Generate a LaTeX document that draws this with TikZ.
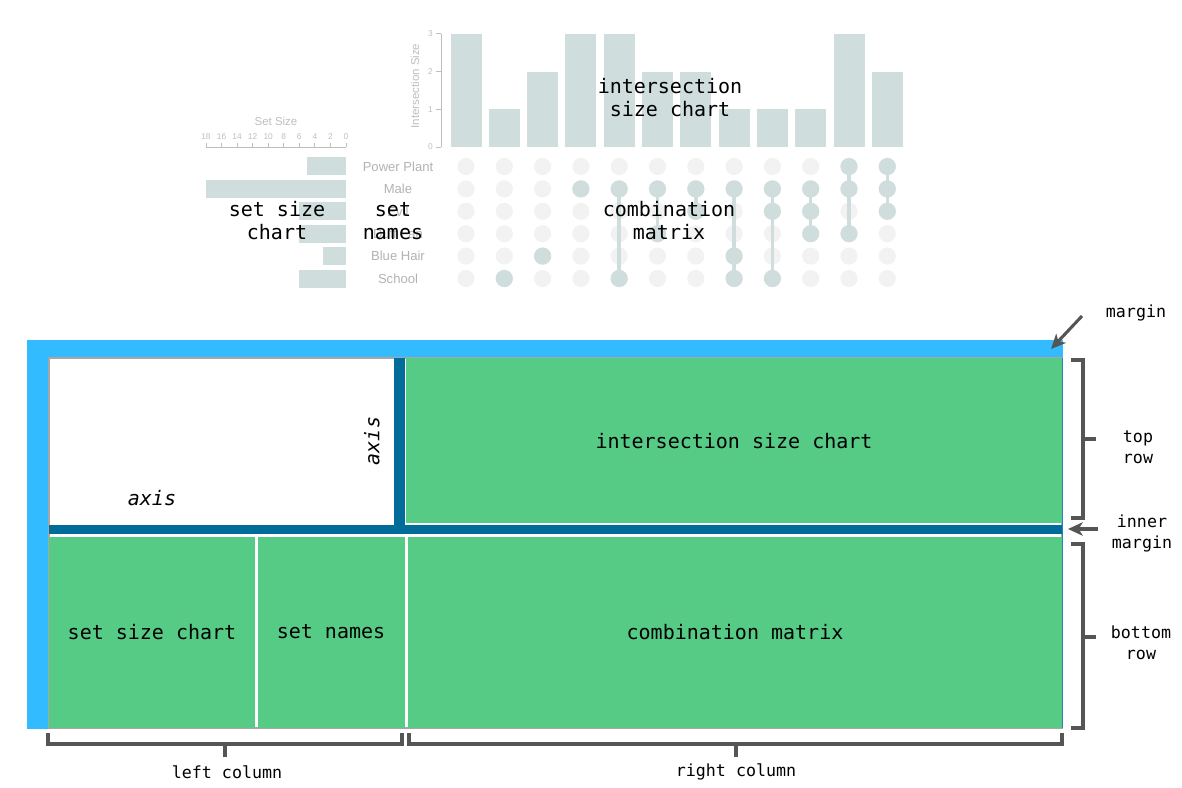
\documentclass[tikz,border=0pt]{standalone}
\usepackage{fontspec}
\setmonofont{DejaVu Sans Mono}
\newfontfamily\labfont{Liberation Sans}
\usetikzlibrary{arrows.meta}
\definecolor{ubar}{RGB}{207,222,220}
\definecolor{udot}{RGB}{242,242,242}
\definecolor{uaxis}{RGB}{190,190,190}
\definecolor{utext}{RGB}{178,178,178}
\definecolor{lblue}{RGB}{51,187,255}
\definecolor{dblue}{RGB}{0,108,153}
\definecolor{lgreen}{RGB}{85,203,133}
\definecolor{brk}{RGB}{85,85,85}
\begin{document}
\begin{tikzpicture}[x=0.75pt,y=-0.75pt,
  big/.style={font=\ttfamily\fontsize{15}{17.25}\selectfont, inner sep=0pt, align=center},
  bigit/.style={font=\ttfamily\itshape\fontsize{15}{17.25}\selectfont, inner sep=0pt},
  small/.style={font=\ttfamily\fontsize{12.5}{15.75}\selectfont, inner sep=0pt, align=center},
  bracket/.style={draw=brk, line width=2.6pt},
  pointer/.style={draw=brk, line width=2.3pt, -{Stealth[length=11pt,width=10pt,inset=3pt]}},
  greencell/.style={fill=lgreen, draw=none},
  setname/.style={font=\labfont\fontsize{9.8}{11}\selectfont, text=utext, inner sep=0pt},
  ticklab/.style={font=\labfont\fontsize{6.3}{7}\selectfont, text=uaxis, inner sep=0pt},
  axlab/.style={font=\labfont\fontsize{8.6}{9}\selectfont, text=uaxis, inner sep=0pt},
]
\useasboundingbox (0,0) rectangle (1182,788);

% ---------------- UpSet plot (top) ----------------
% intersection bars
\foreach \i/\v in {1/3,2/1,3/2,4/3,5/3,6/2,7/2,8/1,9/1,10/1,11/3,12/2}{
  \fill[ubar] ({466+38.3*(\i-1)-15.5},147) rectangle ({466+38.3*(\i-1)+15.5},{147-37.7*\v});
}
% intersection axis
\draw[uaxis, line width=0.6pt] (441,34) -- (441,147);
\foreach \v in {0,1,2,3}{
  \draw[uaxis, line width=0.6pt] (436,{147-37.7*\v}) -- (441,{147-37.7*\v});
  \node[ticklab, anchor=east] (it\v) at (433,{147-37.7*\v}) {\v};
}
\node[axlab, rotate=90] (itlabel) at (415,86) {Intersection Size};

% set size axis
\draw[uaxis, line width=0.6pt] (206,147) -- (346,147);
\foreach \k in {0,2,...,18}{
  \draw[uaxis, line width=0.6pt] ({346-7.78*\k},147) -- ({346-7.78*\k},143);
  \node[ticklab] (st\k) at ({346-7.78*\k},137) {\k};
}
\node[axlab] (sslabel) at (276,121) {Set Size};

% set size bars
\foreach \r/\v in {1/5,2/18,3/6,4/6,5/3,6/6}{
  \fill[ubar] ({346-7.78*\v},{166.5+22.4*(\r-1)-9}) rectangle (346,{166.5+22.4*(\r-1)+9});
}
% set names
\foreach \r/\n in {1/Power Plant,2/Male,3/Evil,4/Duff Fan,5/Blue Hair,6/School}{
  \node[setname] (sn\r) at (398,{166.5+22.4*(\r-1)}) {\n};
}
% matrix background dots
\foreach \c in {1,...,12}{
  \foreach \r in {1,...,6}{
    \fill[udot] ({466+38.3*(\c-1)},{166.5+22.4*(\r-1)}) circle (8.6);
  }
}
% connecting lines
\foreach \c/\a/\b in {5/2/6,6/2/4,7/2/3,8/2/6,9/2/6,10/2/4,11/1/4,12/1/3}{
  \draw[ubar, line width=2.6pt] ({466+38.3*(\c-1)},{166.5+22.4*(\a-1)}) -- ({466+38.3*(\c-1)},{166.5+22.4*(\b-1)});
}
% active dots
\foreach \c/\r in {2/6,3/5,4/2,5/2,5/6,6/2,6/4,7/2,7/3,8/2,8/5,8/6,9/2,9/3,9/6,10/2,10/3,10/4,11/1,11/2,11/4,12/1,12/2,12/3}{
  \fill[ubar] ({466+38.3*(\c-1)},{166.5+22.4*(\r-1)}) circle (8.6);
}

% overlay labels
\node[big] (tisc) at (670,98) {intersection\\size chart};
\node[big] (tssc) at (277,221) {set size\\chart};
\node[big] (tsn) at (393,221) {set\\names};
\node[big] (tcm) at (669,221) {combination\\matrix};

% ---------------- layout scheme (bottom) ----------------
\fill[lblue] (27,340) rectangle (1063,729);
\filldraw[fill=white, draw=gray!70, line width=0.8pt] (49,358) rectangle (1062,728);
\fill[dblue] (394,358) rectangle (405,525);
\fill[dblue] (49,525) rectangle (1062,534);
\fill[greencell] (406,358) rectangle (1062,523);
\fill[greencell] (49,537) rectangle (255,728);
\fill[greencell] (258,537) rectangle (405,728);
\fill[greencell] (408,537) rectangle (1062,728);
\draw[lblue!70!black, line width=0.6pt] (1062,358) -- (1062,728);

\node[big] (isc) at (734,441) {intersection size chart};
\node[bigit] (axh) at (152,498) {axis};
\node[bigit, rotate=90] (axv) at (372,441) {axis};
\node[big] (ssc) at (152,632) {set size chart};
\node[big] (sna) at (331,632) {set names};
\node[big] (cma) at (735,632) {combination matrix};

% right side annotations
\node[small] (lmargin) at (1136,313) {margin};
\node[small] (ltop) at (1138,447) {top\\row};
\node[small] (linner) at (1142,533) {inner\\margin};
\node[small] (lbottom) at (1141,643) {bottom\\row};
\node[small] (lleft) at (227,772) {left column};
\node[small] (lright) at (736,772) {right column};

\coordinate (mstart) at (1082,316);
\coordinate (mtip) at (1051,349);
\draw[pointer] (mstart) -- (mtip);
\coordinate (istart) at (1098,529);
\coordinate (itip) at (1068,529);
\draw[pointer] (istart) -- (itip);

% brackets
\coordinate (trA) at (1071,360); \coordinate (trB) at (1083,360);
\coordinate (trC) at (1083,518); \coordinate (trD) at (1071,518);
\draw[bracket] (trA) -- (trB) -- (trC) -- (trD);
\draw[bracket] (1083,439) -- (1096,439);

\coordinate (brA) at (1071,544); \coordinate (brB) at (1083,544);
\coordinate (brC) at (1083,728); \coordinate (brD) at (1071,728);
\draw[bracket] (brA) -- (brB) -- (brC) -- (brD);
\draw[bracket] (1083,637) -- (1096,637);

\coordinate (lcA) at (48,733); \coordinate (lcB) at (48,744);
\coordinate (lcC) at (402,744); \coordinate (lcD) at (402,733);
\draw[bracket] (lcA) -- (lcB) -- (lcC) -- (lcD);
\draw[bracket] (225,744) -- (225,757);

\coordinate (rcA) at (409,733); \coordinate (rcB) at (409,744);
\coordinate (rcC) at (1062,744); \coordinate (rcD) at (1062,733);
\draw[bracket] (rcA) -- (rcB) -- (rcC) -- (rcD);
\draw[bracket] (736,744) -- (736,757);
\end{tikzpicture}
\end{document}
